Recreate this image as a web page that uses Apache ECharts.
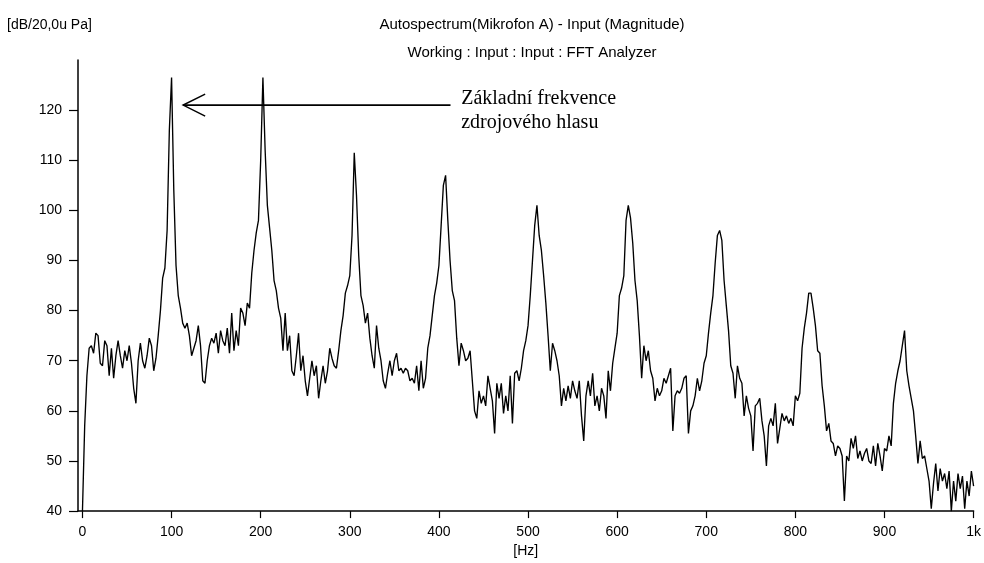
<!DOCTYPE html>
<html><head><meta charset="utf-8">
<script src="https://cdn.jsdelivr.net/npm/echarts@6/dist/echarts.min.js"></script>
<style>html,body{margin:0;padding:0;background:#fff}#c{width:984px;height:563px}</style>
</head><body><div id="c"></div>
<script>
// FFT bin spacing of the analyzer readout (Hz)
const binHz = 2.5;
// Autospectrum level per bin, dB re 20 uPa
const levelDb = [
  40,57,67,72.5,73,71.5,75.5,75,69.5,69,
  74,73,67,72.5,66.5,71,74,71,68.5,72,
  70,73,69.5,64.5,61.5,70,73.5,70,68.5,71,
  74.5,73,68,70.5,75,80,86.5,88.5,96,116,
  126.5,104,89,83,80.5,77.5,76.5,77.5,75,71,
  72.5,74,77,73,66,65.5,70,73,74.5,73.5,
  75.5,71.5,76,74,73,76.5,71.5,79.5,72,76,
  73,80.5,79.5,77,81.5,80.5,87.5,92,95.5,98,
  110,126.5,112,101,96.5,92,86,84,80.5,78.5,
  72,79.5,72,75,68,67,71,75.5,68,71,
  66,63,66.5,70,67,69,62.5,66,69,65.5,
  68,72.5,70.5,69,68.5,72,76,79,83.5,85,
  87,95,111.5,103,91,83,81,77.5,79.5,74.5,
  71,68.5,77,72.5,70,66,64.5,67.5,70,67,
  70,71.5,68,68.5,67.5,68.5,68,66,66.5,65.5,
  69,64,70,64.5,66.5,72.5,75,79,83,85.5,
  89,97,105,107,98,90,84,82,74.5,69,
  73.5,72,70,70.5,72,66,60,58.5,64,61.5,
  63,61,67,64.5,62,55.5,65.5,62.5,65.5,59.5,
  63,60,67,57.5,67.5,68,66,68.5,72,74,
  77,83,90,97,101,95,92,87,81.5,75,
  68,73.5,72,70,67,61,64.5,62,65,62.5,
  66,64,62.5,66,59,54,63,66,63,67.5,
  61,63,60,64.5,63,58.5,68,64,69.5,72.5,
  75.5,83,84.5,87,98,101,98.5,93.5,86,82,
  75,66.5,73,70,72,68,66.5,62,64.5,63,
  64,66.5,65.5,67,68.5,56,63,64,63.5,64.5,
  66.5,67,55.5,60,61,63,66.5,64,66,69.5,
  71,75.5,79.5,83,89.5,95,96,94,86,81,
  76,69,67.5,62.5,69,66.5,65.5,59,63,60.5,
  59,52,61,61.5,62.5,58,55,49,57,58.5,
  57,61.5,53.5,56.5,59.5,58,59,57.5,58.5,57,
  63,62,63.5,72.5,76.5,79.5,83.5,83.5,80.5,77,
  72,71.5,65,61,56,57.5,54,53.5,51,53,
  52.5,51,42,51,50,54.5,52.5,55,50.5,52,
  50,51.5,52.5,50,49.5,53,49,53.5,51,48,
  52.5,52,55,53,61.5,65.5,68,70,73,76,
  68,65,62.5,60,55,49.5,54,50.5,51,48.5,
  46,40.5,45.5,49.5,44,48.5,46,47.5,44.5,48,
  40,46,42,47.5,44.5,47,40.5,46,43,48,
  45
];
const xTickValues = [0,100,200,300,400,500,600,700,800,900,1000];
const xTickLabels = ['0','100','200','300','400','500','600','700','800','900','1k'];
const yTickValues = [40,50,60,70,80,90,100,110,120];
const unitLabel = '[dB/20,0u Pa]';
const titleLines = ['Autospectrum(Mikrofon A) - Input (Magnitude)', 'Working : Input : Input : FFT Analyzer'];
const noteLines = ['Základní frekvence', 'zdrojového hlasu'];
// annotation anchor points in data space [Hz, dB]
const arrowTail = [413, 121];
const arrowHead = [113, 121];
const noteAnchor = [425, 122.2];

const sans = '"Liberation Sans", Arial, sans-serif';
const serif = '"Liberation Serif", "Times New Roman", serif';
const chart = echarts.init(document.getElementById('c'), null, {renderer: 'canvas'});

const option = {
  animation: false,
  backgroundColor: '#fff',
  grid: {left: 78, top: 60, width: 907, bottom: 45.5, containLabel: false},
  xAxis: {
    type: 'value', min: -5, max: 1000,
    name: '[Hz]', nameLocation: 'middle', nameGap: 29,
    nameTextStyle: {fontFamily: sans, fontSize: 14, color: '#000'},
    axisLine: {show: true, onZero: false, lineStyle: {color: '#000', width: 1.5}},
    axisTick: {show: true, inside: false, length: 7, customValues: xTickValues, lineStyle: {color: '#000', width: 1.2}},
    axisLabel: {customValues: xTickValues, margin: 14, fontFamily: sans, fontSize: 14, color: '#000',
      formatter: v => xTickLabels[xTickValues.indexOf(v)]},
    splitLine: {show: false}
  },
  yAxis: {
    type: 'value', min: 40, max: 130,
    axisLine: {show: true, onZero: false, lineStyle: {color: '#000', width: 1.5}},
    axisTick: {show: true, inside: false, length: 9, customValues: yTickValues, lineStyle: {color: '#000', width: 1.2}},
    axisLabel: {customValues: yTickValues, margin: 16, fontFamily: sans, fontSize: 14, color: '#000'},
    splitLine: {show: false}
  },
  series: [{
    type: 'line',
    data: levelDb.map((v, i) => [i * binHz, v]),
    symbol: 'none', showSymbol: false, clip: true,
    lineStyle: {color: '#000', width: 1.35},
    silent: true
  }]
};
chart.setOption(option);

const pTail = chart.convertToPixel({gridIndex: 0}, arrowTail);
const pHead = chart.convertToPixel({gridIndex: 0}, arrowHead);
const pNote = chart.convertToPixel({gridIndex: 0}, noteAnchor);
chart.setOption({
  graphic: [
    {type: 'text', x: 7, y: 25, style: {text: unitLabel, font: '14px ' + sans, fill: '#000', align: 'left', verticalAlign: 'middle'}},
    {type: 'text', x: 532, y: 25, style: {text: titleLines[0], font: '15px ' + sans, fill: '#000', align: 'center', verticalAlign: 'middle'}},
    {type: 'text', x: 532, y: 53, style: {text: titleLines[1], font: '15px ' + sans, fill: '#000', align: 'center', verticalAlign: 'middle'}},
    {type: 'line', shape: {x1: pTail[0], y1: pTail[1], x2: pHead[0], y2: pHead[1]}, style: {stroke: '#000', lineWidth: 1.6}},
    {type: 'polyline', shape: {points: [[pHead[0] + 22, pHead[1] - 11], [pHead[0], pHead[1]], [pHead[0] + 22, pHead[1] + 11]]}, style: {stroke: '#000', lineWidth: 1.5, fill: null}},
    {type: 'text', x: pNote[0], y: pNote[1], style: {text: noteLines[0], font: '20px ' + serif, fill: '#000', align: 'left', verticalAlign: 'middle'}},
    {type: 'text', x: pNote[0], y: pNote[1] + 24, style: {text: noteLines[1], font: '20px ' + serif, fill: '#000', align: 'left', verticalAlign: 'middle'}}
  ]
});
</script></body></html>
